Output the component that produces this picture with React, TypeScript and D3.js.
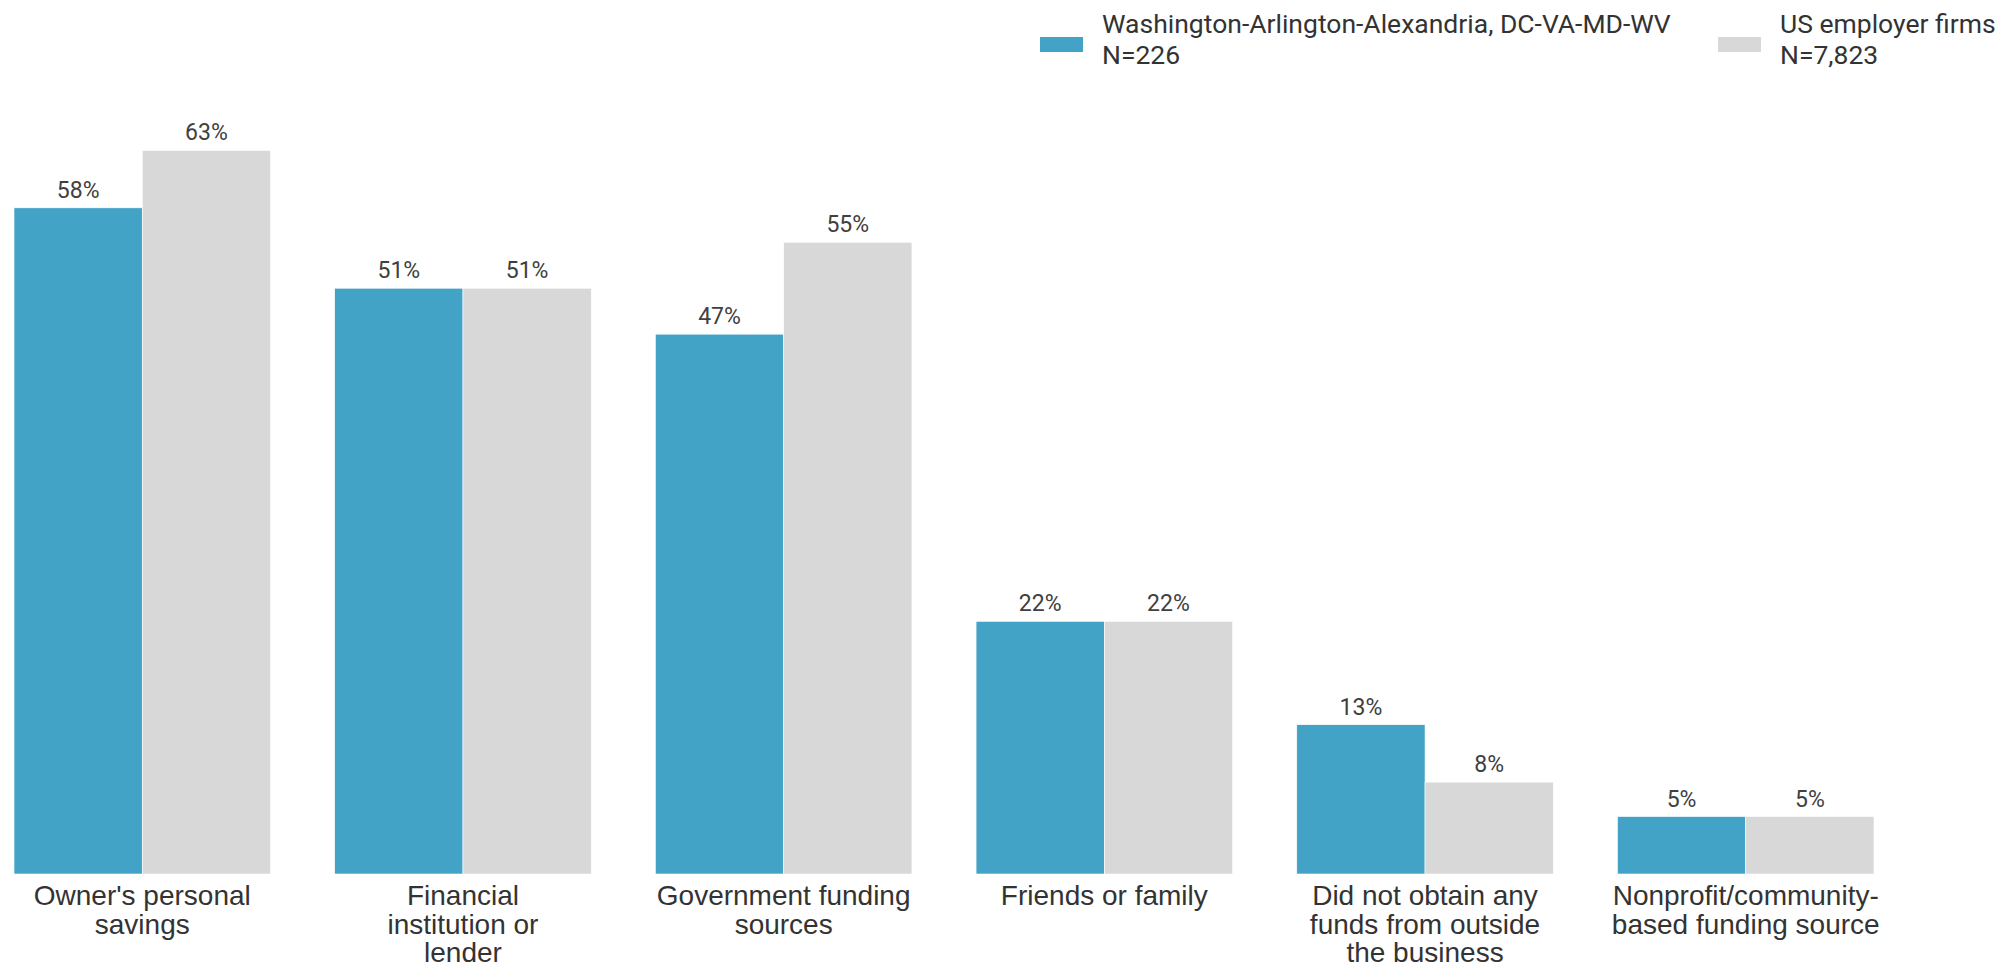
import { useEffect, useRef } from 'react';
import * as d3 from 'd3';

const WIDTH = 2013;
const HEIGHT = 967;
const FONT = 'Roboto, "Noto Sans", Arial, sans-serif';
const LABEL_FONT = '"Liberation Sans", Arial, Helvetica, sans-serif';

const categories = [
  "Owner's personal\nsavings",
  'Financial\ninstitution or\nlender',
  'Government funding\nsources',
  'Friends or family',
  'Did not obtain any\nfunds from outside\nthe business',
  'Nonprofit/community-\nbased funding source',
];
const seriesNames = ['Washington-Arlington-Alexandria, DC-VA-MD-WV', 'US employer firms'];
const seriesCounts = ['N=226', 'N=7,823'];
const seriesColors = ['#43a3c7', '#d8d8d8'];
const metroValues = [58, 51, 47, 22, 13, 5];
const usValues = [63, 51, 55, 22, 8, 5];

export default function App() {
  const svgRef = useRef<SVGSVGElement | null>(null);

  useEffect(() => {
    const svgEl = svgRef.current;
    if (!svgEl) return;
    const svg = d3.select(svgEl);
    svg.selectAll('*').remove();

    const baseline = 874;
    const x0 = d3.scaleBand<string>().domain(categories).range([14, 1874]).paddingInner(0.2).paddingOuter(0);
    const x1 = d3.scaleBand<number>().domain([0, 1]).range([0, x0.bandwidth()]).padding(0);
    const y = d3.scaleLinear().domain([0, 70]).range([baseline, 70]);

    const rows = categories.map((c, i) => ({ cat: c, values: [metroValues[i], usValues[i]] }));

    // ---- bars + value labels ---------------------------------------------
    const groups = svg
      .append('g')
      .selectAll('g')
      .data(rows)
      .join('g')
      .attr('transform', (d) => `translate(${x0(d.cat)}, 0)`);

    groups
      .selectAll('rect')
      .data((d) => d.values.map((v, s) => ({ v, s })))
      .join('rect')
      .attr('x', (d) => x1(d.s) ?? 0)
      .attr('y', (d) => y(d.v))
      .attr('width', x1.bandwidth())
      .attr('height', (d) => baseline - y(d.v))
      .attr('fill', (d) => seriesColors[d.s])
      .attr('stroke', '#ffffff')
      .attr('stroke-width', 0.6);

    groups
      .selectAll('text.value')
      .data((d) => d.values.map((v, s) => ({ v, s })))
      .join('text')
      .attr('class', 'value')
      .attr('x', (d) => (x1(d.s) ?? 0) + x1.bandwidth() / 2)
      .attr('y', (d) => y(d.v) - 10)
      .attr('text-anchor', 'middle')
      .attr('font-family', FONT)
      .attr('font-size', 23)
      .attr('fill', '#404040')
      .text((d) => `${d.v}%`);

    // ---- category labels -------------------------------------------------
    groups
      .append('text')
      .attr('x', x0.bandwidth() / 2)
      .attr('y', 905)
      .attr('text-anchor', 'middle')
      .attr('font-family', LABEL_FONT)
      .attr('font-size', 28)
      .attr('fill', '#333333')
      .each(function (d) {
        const t = d3.select(this);
        d.cat.split('\n').forEach((line, i) => {
          t.append('tspan')
            .attr('x', x0.bandwidth() / 2)
            .attr('dy', i === 0 ? 0 : 28.5)
            .text(line);
        });
      });

    // ---- legend ----------------------------------------------------------
    const legendX = [1040, 1718];
    const legend = svg
      .append('g')
      .selectAll('g')
      .data(seriesNames)
      .join('g')
      .attr('transform', (_, i) => `translate(${legendX[i]}, 0)`);
    legend
      .append('rect')
      .attr('x', 0)
      .attr('y', 37)
      .attr('width', 43)
      .attr('height', 15)
      .attr('fill', (_, i) => seriesColors[i]);
    legend
      .append('text')
      .attr('x', 62)
      .attr('y', 33)
      .attr('font-family', FONT)
      .attr('font-size', 26.5)
      .attr('fill', '#333333')
      .text((d) => d);
    legend
      .append('text')
      .attr('x', 62)
      .attr('y', 64)
      .attr('font-family', FONT)
      .attr('font-size', 26.5)
      .attr('fill', '#333333')
      .text((_, i) => seriesCounts[i]);
  }, []);

  return (
    <svg
      ref={svgRef}
      width={WIDTH}
      height={HEIGHT}
      viewBox={`0 0 ${WIDTH} ${HEIGHT}`}
      style={{ position: 'absolute', left: 0, top: 0, display: 'block', background: '#ffffff' }}
    />
  );
}
